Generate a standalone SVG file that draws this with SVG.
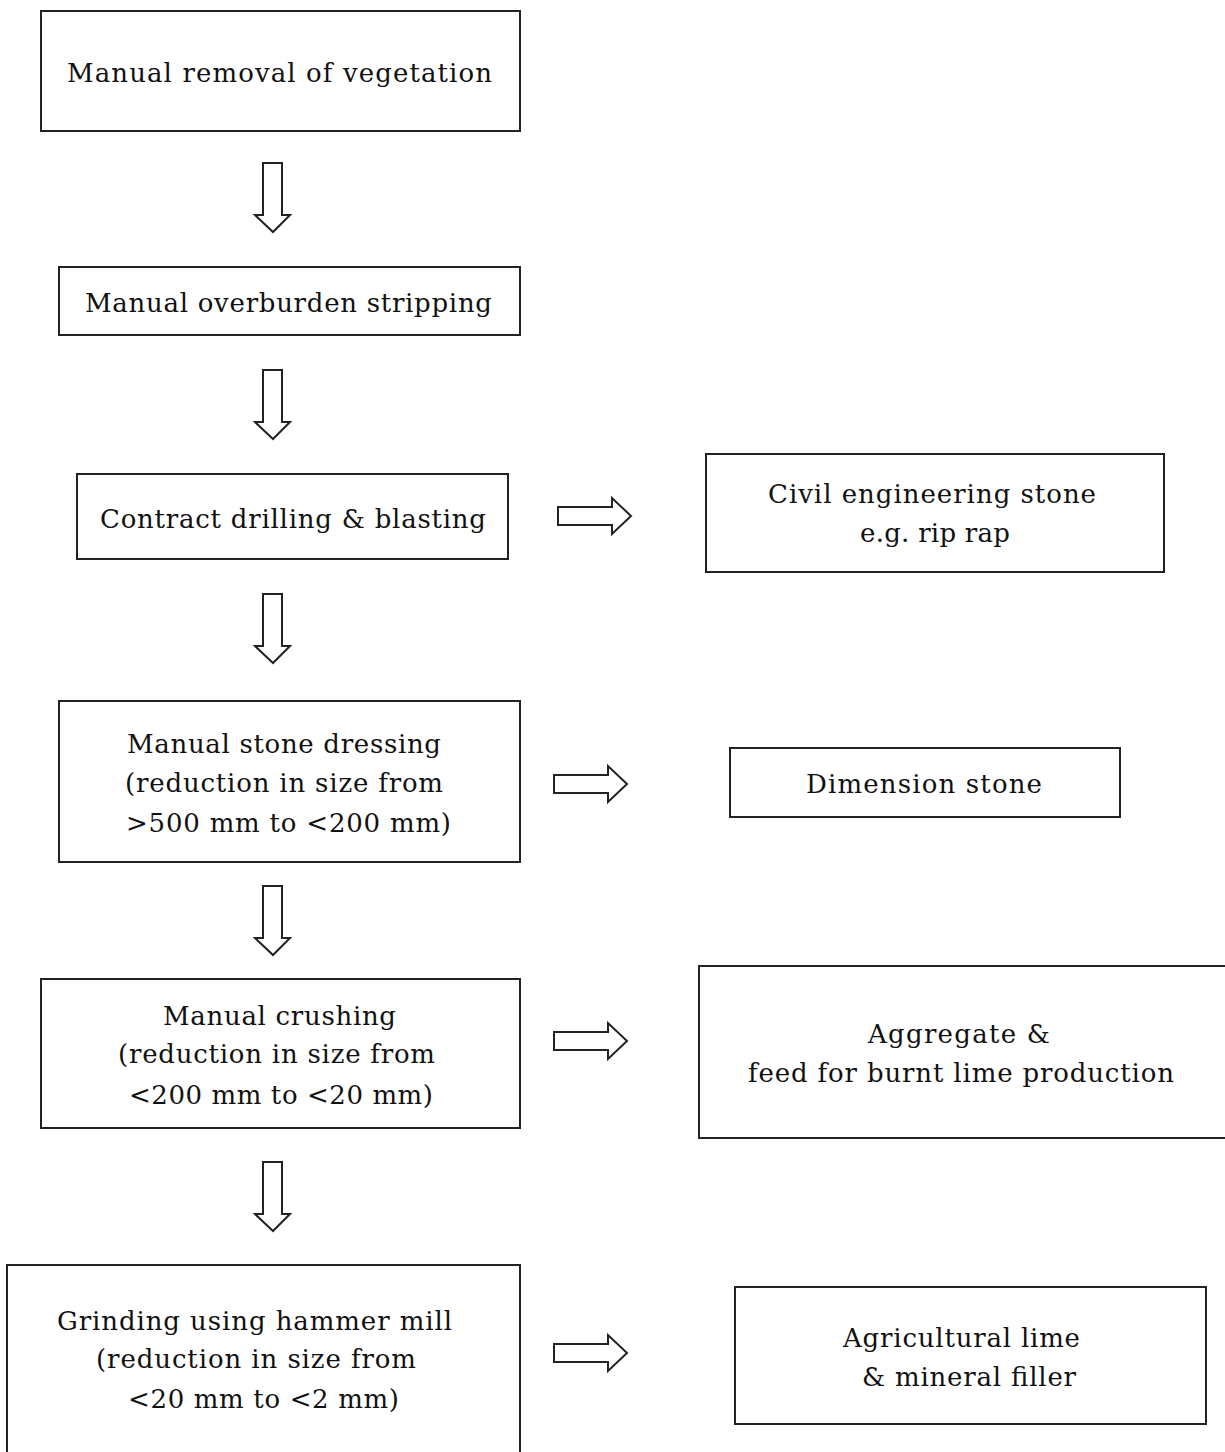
<svg xmlns="http://www.w3.org/2000/svg" width="1225" height="1452" viewBox="0 0 1225 1452">
<style>
.box{fill:#fff;stroke:#222;stroke-width:2}
.arr{fill:#fff;stroke:#222;stroke-width:2;stroke-linejoin:miter}
text{font-family:"DejaVu Serif","Liberation Serif",serif;font-size:26px;fill:#111}
</style>
<defs>
<path id="down" d="M-9,0 H10 V52 H18 L1,69 L-17,52 H-9 Z"/>
<path id="right" d="M0,9 H54 V0 L73,18 L54,36 V27 H0 Z"/>
</defs>
<rect width="1225" height="1452" fill="#fff"/>
<g id="n1"><rect class="box" x="41" y="11" width="479" height="120"/><text x="67" y="82" textLength="425" lengthAdjust="spacing">Manual removal of vegetation</text></g>
<g id="n2"><rect class="box" x="59" y="267" width="461" height="68"/><text x="85" y="312" textLength="407" lengthAdjust="spacing">Manual overburden stripping</text></g>
<g id="n3"><rect class="box" x="77" y="474" width="431" height="85"/><text x="100" y="528" textLength="386" lengthAdjust="spacing">Contract drilling &amp; blasting</text></g>
<g id="n4"><rect class="box" x="59" y="701" width="461" height="161"/>
<text x="127" y="753" textLength="314" lengthAdjust="spacing">Manual stone dressing</text>
<text x="125" y="792" textLength="318" lengthAdjust="spacing">(reduction in size from</text>
<text x="126" y="832" textLength="325" lengthAdjust="spacing">&gt;500 mm to &lt;200 mm)</text></g>
<g id="n5"><rect class="box" x="41" y="979" width="479" height="149"/>
<text x="163" y="1025" textLength="233" lengthAdjust="spacing">Manual crushing</text>
<text x="118" y="1063" textLength="317" lengthAdjust="spacing">(reduction in size from</text>
<text x="129" y="1104" textLength="304" lengthAdjust="spacing">&lt;200 mm to &lt;20 mm)</text></g>
<g id="n6"><rect class="box" x="7" y="1265" width="513" height="220"/>
<text x="57" y="1330" textLength="395" lengthAdjust="spacing">Grinding using hammer mill</text>
<text x="96" y="1368" textLength="320" lengthAdjust="spacing">(reduction in size from</text>
<text x="128" y="1408" textLength="271" lengthAdjust="spacing">&lt;20 mm to &lt;2 mm)</text></g>
<g id="r1"><rect class="box" x="706" y="454" width="458" height="118"/>
<text x="768" y="503" textLength="328" lengthAdjust="spacing">Civil engineering  stone</text>
<text x="860" y="542" textLength="150" lengthAdjust="spacing">e.g. rip rap</text></g>
<g id="r2"><rect class="box" x="730" y="748" width="390" height="69"/>
<text x="806" y="793" textLength="236" lengthAdjust="spacing">Dimension stone</text></g>
<g id="r3"><rect class="box" x="699" y="966" width="540" height="172"/>
<text x="868" y="1043" textLength="182" lengthAdjust="spacing">Aggregate &amp;</text>
<text x="748" y="1082" textLength="426" lengthAdjust="spacing">feed for burnt lime production</text></g>
<g id="r4"><rect class="box" x="735" y="1287" width="471" height="137"/>
<text x="843" y="1347" textLength="237" lengthAdjust="spacing">Agricultural lime</text>
<text x="862" y="1386" textLength="214" lengthAdjust="spacing">&amp; mineral filler</text></g>
<g id="connectors">
<use href="#down" class="arr" x="272" y="163"/>
<use href="#down" class="arr" x="272" y="370"/>
<use href="#down" class="arr" x="272" y="594"/>
<use href="#down" class="arr" x="272" y="886"/>
<use href="#down" class="arr" x="272" y="1162"/>
<use href="#right" class="arr" x="558" y="498"/>
<use href="#right" class="arr" x="554" y="766"/>
<use href="#right" class="arr" x="554" y="1023"/>
<use href="#right" class="arr" x="554" y="1335"/>
</g>
</svg>
